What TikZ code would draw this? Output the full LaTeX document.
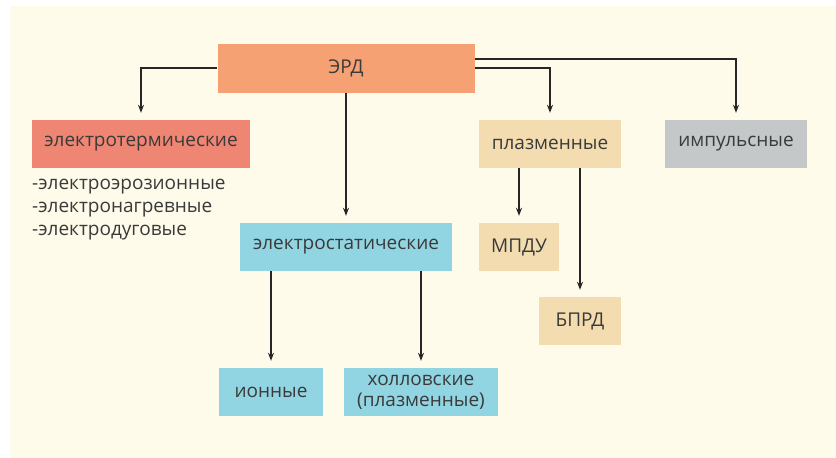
\documentclass[tikz,border=0pt]{standalone}
\usepackage{fontspec}
\setmainfont{Open Sans}
\usetikzlibrary{arrows.meta}
\definecolor{cream}{HTML}{FEFBEA}
\definecolor{erd}{HTML}{F5A173}
\definecolor{therm}{HTML}{EF8573}
\definecolor{stat}{HTML}{92D5E2}
\definecolor{plasma}{HTML}{F3DDB0}
\definecolor{pulse}{HTML}{C4C8C8}
\definecolor{txt}{HTML}{3A3A3A}
\tikzset{
  box/.style={rectangle, inner sep=0pt, text=txt, font=\fontsize{19}{21}\selectfont, align=center},
  item/.style={inner sep=0pt, text=txt, font=\fontsize{19}{21}\selectfont, anchor=base west},
  conn/.style={draw=black!85, line width=1.2pt, -{Stealth[length=8pt,width=6pt]}, shorten >=7pt},
}
\begin{document}
\begin{tikzpicture}[x=1pt,y=-1pt]
\useasboundingbox (0,0) rectangle (836,458);
\fill[cream] (10,6) rectangle (836,458);
\node[box, fill=erd, minimum width=257pt, minimum height=49pt] (erd) at (346,68) {ЭРД};
\node[box, fill=therm, minimum width=218pt, minimum height=48pt] (therm) at (141,144) {электротермические};
\node[box, fill=plasma, minimum width=142pt, minimum height=48pt] (plasma) at (550,144) {плазменные};
\node[box, fill=pulse, minimum width=142pt, minimum height=48pt] (pulse) at (736,144) {импульсные};
\node[box, fill=stat, minimum width=212pt, minimum height=48pt] (stat) at (346,247) {электростатические};
\node[box, fill=plasma, minimum width=80pt, minimum height=48pt] (mpdu) at (519,247) {МПДУ};
\node[box, fill=plasma, minimum width=82pt, minimum height=48pt] (bprd) at (580,321) {БПРД};
\node[box, fill=stat, minimum width=104pt, minimum height=48pt] (ion) at (271,392) {ионные};
\node[box, fill=stat, minimum width=154pt, minimum height=48pt] (hall) at (421,392) {холловские\\(плазменные)};
\node[item] (l1) at (32,189) {-электроэрозионные};
\node[item] (l2) at (32,212) {-электронагревные};
\node[item] (l3) at (32,235) {-электродуговые};
\coordinate (tl) at (141,68);
\coordinate (pl) at (550,68);
\coordinate (pu) at (736,59);
\draw[conn] (erd.west |- tl) -| (therm.north);
\draw[conn] (erd.south) -- (stat.north);
\draw[conn] (erd.east |- pl) -| (plasma.north);
\draw[conn] (erd.east |- pu) -| (pulse.north);
\draw[conn] (plasma.south -| mpdu.north) -- (mpdu.north);
\draw[conn] (plasma.south -| bprd.north) -- (bprd.north);
\draw[conn] (stat.south -| ion.north) -- (ion.north);
\draw[conn] (stat.south -| hall.north) -- (hall.north);
\end{tikzpicture}
\end{document}
